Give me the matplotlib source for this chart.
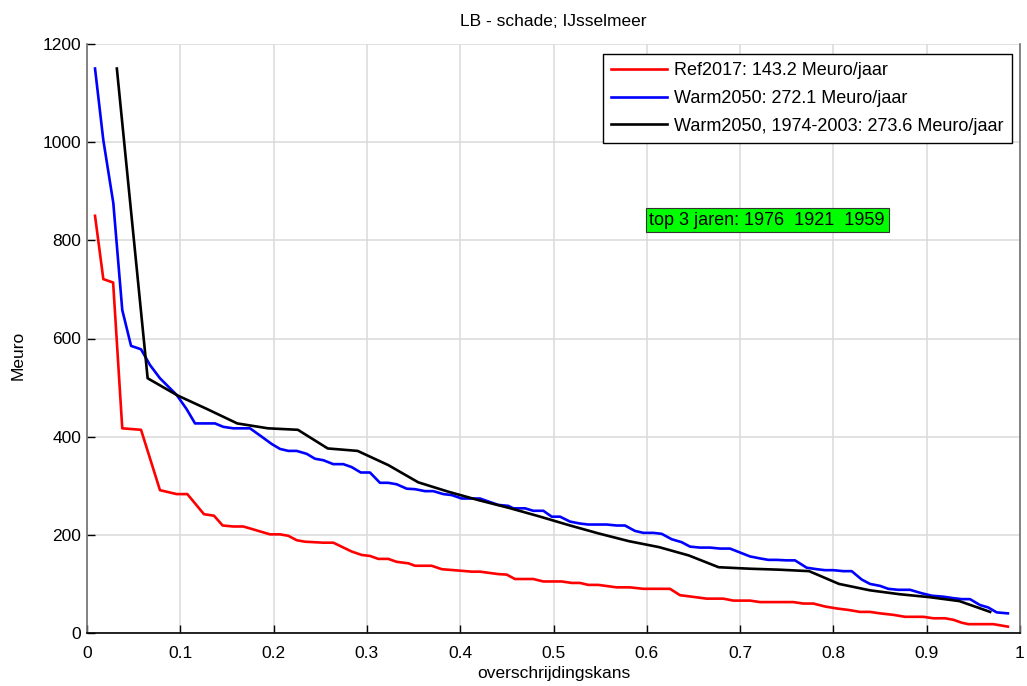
import matplotlib
matplotlib.use('Agg')
import matplotlib.pyplot as plt
from matplotlib.ticker import FuncFormatter

plt.rcParams['font.family'] = ['Liberation Sans', 'DejaVu Sans']

# Ref2017
red_x = [0.0086, 0.0175, 0.028, 0.0378, 0.0579, 0.0782, 0.0961, 0.1075, 0.1254, 0.1361,
         0.1454, 0.1568, 0.1675, 0.1765, 0.1961, 0.2069, 0.2158, 0.2248, 0.2337, 0.2533,
         0.264, 0.2837, 0.2944, 0.3033, 0.3122, 0.3229, 0.3319, 0.3444, 0.3516, 0.3694,
         0.3802, 0.3998, 0.4123, 0.4212, 0.4408, 0.4498, 0.4587, 0.4783, 0.4891, 0.5088,
         0.5195, 0.5284, 0.5373, 0.548, 0.5677, 0.582, 0.5963, 0.6249, 0.6356, 0.6481,
         0.6642, 0.682, 0.6927, 0.7106, 0.7213, 0.757, 0.7677, 0.7785, 0.791, 0.8035,
         0.816, 0.8285, 0.8392, 0.85, 0.8642, 0.8767, 0.8964, 0.9071, 0.9196, 0.9285,
         0.9375, 0.9446, 0.9714, 0.987]
red_y = [850, 721, 714, 417, 414, 291, 283, 283, 242, 239,
         219, 217, 217, 212, 201, 201, 198, 189, 186, 184,
         184, 166, 159, 157, 151, 151, 145, 142, 137, 137,
         130, 127, 125, 125, 120, 119, 110, 110, 105, 105,
         102, 102, 98, 98, 93, 93, 90, 90, 77, 74,
         70, 70, 66, 66, 63, 63, 60, 60, 54, 50,
         47, 43, 43, 40, 37, 33, 33, 30, 30, 27,
         21, 18, 18, 13]

# Warm2050
blue_x = [0.0086, 0.0175, 0.0282, 0.0378, 0.0472, 0.0579, 0.0675, 0.0782, 0.0961, 0.1068,
          0.1158, 0.1372, 0.1461, 0.1568, 0.1747, 0.1872, 0.198, 0.2069, 0.2158, 0.2248,
          0.2355, 0.2444, 0.2533, 0.264, 0.2747, 0.2837, 0.2934, 0.3033, 0.314, 0.3229,
          0.3319, 0.3427, 0.3516, 0.3623, 0.3712, 0.3819, 0.3909, 0.4016, 0.4212, 0.4301,
          0.4408, 0.4516, 0.4569, 0.4695, 0.4783, 0.4891, 0.4981, 0.507, 0.5177, 0.5284,
          0.5373, 0.557, 0.5677, 0.5766, 0.5873, 0.5963, 0.607, 0.616, 0.6267, 0.6374,
          0.6463, 0.657, 0.6677, 0.6785, 0.6892, 0.6999, 0.7106, 0.7213, 0.7302, 0.7392,
          0.7499, 0.7588, 0.7714, 0.7821, 0.791, 0.7999, 0.8106, 0.8196, 0.8303, 0.8392,
          0.85, 0.8588, 0.8696, 0.8821, 0.8946, 0.9054, 0.9178, 0.9285, 0.9375, 0.9464,
          0.9571, 0.966, 0.975, 0.987]
blue_y = [1150, 1004, 876, 658, 585, 578, 546, 519, 485, 456,
          427, 427, 420, 417, 417, 400, 385, 375, 371, 371,
          365, 355, 352, 344, 344, 338, 327, 327, 306, 306,
          303, 294, 293, 289, 289, 283, 281, 274, 274, 268,
          261, 259, 254, 254, 249, 249, 237, 237, 227, 223,
          221, 221, 219, 219, 208, 204, 204, 202, 191, 185,
          176, 174, 174, 172, 172, 164, 156, 152, 149, 149,
          148, 148, 133, 130, 128, 128, 126, 126, 109, 100,
          96, 90, 88, 88, 81, 76, 74, 71, 69, 69,
          57, 52, 42, 40]

# Warm2050, 1974-2003 (30 years)
black_x = [0.032, 0.065, 0.097, 0.129, 0.161, 0.194, 0.226, 0.258, 0.290, 0.323,
           0.355, 0.387, 0.419, 0.452, 0.484, 0.516, 0.548, 0.581, 0.613, 0.645,
           0.677, 0.710, 0.742, 0.774, 0.806, 0.839, 0.871, 0.903, 0.935, 0.968]
black_y = [1150, 519, 484, 456, 427, 417, 414, 376, 371, 342,
           307, 288, 271, 255, 238, 220, 203, 187, 175, 158,
           134, 131, 129, 126, 100, 87, 79, 73, 65, 43]

labels = ['Ref2017: 143.2 Meuro/jaar',
          'Warm2050: 272.1 Meuro/jaar',
          'Warm2050, 1974-2003: 273.6 Meuro/jaar']
top_text = 'top 3 jaren: 1976  1921  1959'

W, H = 1027, 686
fig = plt.figure(figsize=(W / 100, H / 100), dpi=100)
ax = fig.add_axes([87 / W, (H - 633) / H, (1020 - 87) / W, (633 - 44) / H])

lw = 1.9
ax.plot(red_x, red_y, color='#ff0000', lw=lw, label=labels[0])
ax.plot(blue_x, blue_y, color='#0000ff', lw=lw, label=labels[1])
ax.plot(black_x, black_y, color='black', lw=lw, label=labels[2])

ax.set_xlim(0, 1)
ax.set_ylim(0, 1200)
ax.set_xticks([i / 10 for i in range(11)])
ax.set_yticks(range(0, 1201, 200))
ax.xaxis.set_major_formatter(FuncFormatter(lambda v, p: '%g' % v))
ax.grid(True, color='#dadada', lw=1.1)
ax.set_axisbelow(True)

ax.spines['top'].set_visible(False)
ax.spines['left'].set_color('#707070')
ax.spines['right'].set_color('#707070')
ax.spines['bottom'].set_color('black')
for s in ax.spines.values():
    s.set_linewidth(1.2)
ax.tick_params(axis='x', direction='in', length=6, width=1, pad=9, labelsize=12.5)
ax.tick_params(axis='y', direction='in', length=6, width=1, pad=4, labelsize=12.5)

ax.set_title('LB - schade; IJsselmeer', fontsize=12.5, pad=13)
ax.set_xlabel('overschrijdingskans', fontsize=12.5, labelpad=4)
ax.set_ylabel('Meuro', fontsize=12.5)
ax.yaxis.set_label_coords(-0.066, 0.472)

leg = ax.legend(loc='upper right', bbox_to_anchor=(0.9914, 0.983), borderaxespad=0,
                fontsize=13, handlelength=3.1, handletextpad=0.4, borderpad=0.45,
                labelspacing=0.6, fancybox=False, framealpha=1)
leg.get_frame().set_edgecolor('black')
leg.get_frame().set_linewidth(1.0)

ax.text(0.729, 841, top_text, fontsize=13, ha='center', va='center',
        bbox=dict(boxstyle='square,pad=0.2', facecolor='#00ff00', edgecolor='#333333', lw=0.8))

fig.savefig('out.png', dpi=100, facecolor='white')
